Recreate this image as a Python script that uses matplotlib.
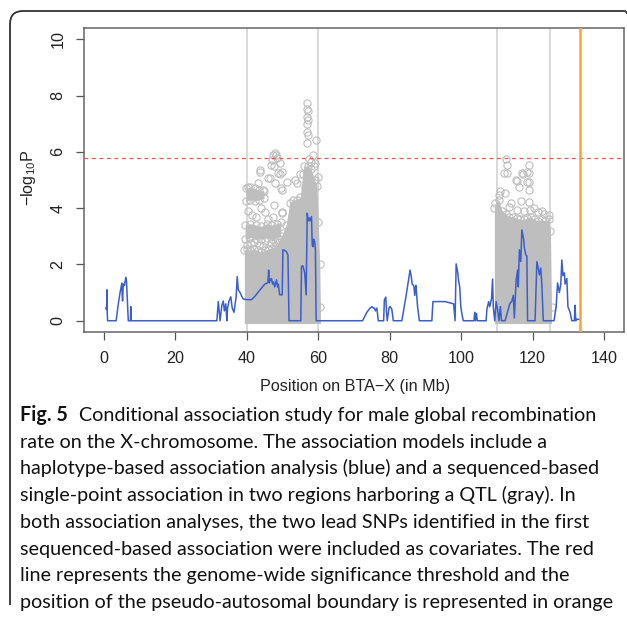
import numpy as np
import matplotlib.pyplot as plt
from matplotlib.path import Path
from matplotlib.patches import PathPatch

plt.rcParams['font.family'] = ['Liberation Sans', 'DejaVu Sans']

# haplotype-based association along BTA-X (blue line)
hap_pos = [0.5, 0.75, 0.85, 0.9, 1.0, 3.4, 4.0, 4.5, 5.0, 5.1, 5.2, 5.4, 5.7, 6.1, 6.3, 6.8, 7.4, 7.5, 7.6,
           31.6, 32.0, 32.5, 33.0, 33.4, 33.7, 34.1, 34.4, 34.6, 35.0, 35.5, 35.9, 36.4, 37.0, 37.3, 37.6,
           38.1, 38.6, 39.0, 40.0, 41.3, 42.2, 43.7, 45.0, 45.9, 46.1, 46.3, 46.6, 46.9, 47.2, 47.5, 47.8,
           48.1, 48.3, 48.6, 48.8, 49.2, 49.9, 50.1, 50.6, 51.1, 51.5, 51.8, 55.1, 55.3, 55.7, 56.2, 56.6,
           56.9, 57.2, 57.5, 57.7, 58.1, 58.3, 58.5, 58.7, 59.0, 59.2, 59.4, 72.4, 73.6, 74.5, 75.0, 75.4,
           75.7, 76.0, 76.4, 76.8, 78.3, 78.5, 78.9, 79.1, 79.3, 79.8, 80.1, 80.6, 81.0, 83.4, 84.6, 85.7,
           86.0, 86.3, 86.6, 86.8, 87.0, 87.3, 87.5, 87.8, 88.3, 91.8, 92.1, 95.5, 97.9, 98.3, 98.6, 99.0,
           99.3, 99.6, 99.9, 100.2, 100.6, 103.6, 103.8, 104.0, 104.3, 104.5, 107.0, 107.2, 107.7, 108.0,
           108.5, 108.8, 109.0, 109.4, 109.8, 110.2, 110.6, 111.0, 111.3, 112.3, 113.3, 113.6, 114.2, 114.6,
           114.9, 115.4, 115.8, 116.0, 116.3, 116.7, 117.0, 117.5, 117.7, 118.1, 118.4, 118.6, 120.7, 121.2,
           121.7, 121.9, 122.3, 122.6, 123.0, 126.0, 126.6, 127.0, 127.5, 127.9, 128.2, 128.5, 128.9, 129.1,
           129.6, 129.9, 130.5, 131.0, 131.7, 131.9, 132.1, 132.3, 133.2]
hap_logp = [0.45, 0.4, 1.1, 0.3, 0.0, 0.0, 0.6, 1.0, 1.34, 0.9, 0.7, 1.3, 1.25, 1.54, 1.4, 0.0, 0.0, 0.5, 0.0,
            0.0, 0.68, 0.0, 0.55, 0.7, 0.35, 0.6, 0.0, 0.45, 0.7, 0.85, 0.45, 0.3, 0.85, 1.57, 1.1,
            1.0, 0.86, 0.77, 0.75, 0.75, 0.86, 1.1, 1.3, 1.35, 1.8, 1.35, 1.45, 1.5, 1.3, 1.38, 1.2,
            1.35, 1.45, 1.2, 1.3, 0.92, 0.92, 2.52, 2.5, 2.45, 2.34, 0.0, 0.0, 1.93, 1.95, 1.7, 0.92,
            3.82, 3.55, 3.65, 3.55, 3.7, 2.7, 2.63, 2.9, 2.8, 2.5, 0.0, 0.0, 0.3, 0.45, 0.5, 0.45,
            0.45, 0.35, 0.45, 0.0, 0.0, 0.74, 0.84, 0.3, 0.0, 0.45, 0.51, 0.4, 0.0, 0.0, 0.9, 1.8,
            1.6, 1.3, 1.26, 1.2, 0.9, 1.26, 1.0, 0.5, 0.0, 0.0, 0.68, 0.68, 0.6, 0.0, 2.02, 1.75,
            1.4, 1.2, 0.5, 0.25, 0.0, 0.0, 0.3, 0.0, 0.25, 0.0, 0.0, 0.4, 0.68, 0.5,
            0.78, 1.48, 0.5, 0.0, 0.68, 0.4, 0.0, 0.5, 0.0, 0.0, 0.45, 0.6, 0.7, 0.9,
            0.1, 1.45, 1.8, 1.2, 2.52, 2.1, 3.23, 2.9, 2.6, 2.34, 2.3, 0.0, 0.0, 2.1,
            1.8, 1.63, 1.87, 1.28, 0.0, 0.0, 0.5, 1.34, 1.0, 1.3, 2.16, 1.6, 1.7, 1.3,
            1.5, 0.5, 0.3, 0.0, 0.0, 0.55, 0.0, 0.05, 0.05]

# sequence-based single-point association: saturated SNP cloud, upper edge
core1_pos = [39.3, 40.0, 41.0, 42.0, 43.0, 44.0, 45.0, 46.0, 47.0, 48.0, 49.0, 50.0, 51.0, 52.0,
             53.0, 54.0, 55.0, 55.6, 56.0, 57.0, 58.0, 59.0, 59.6, 60.0, 60.4, 60.6]
core1_top = [2.5, 2.55, 2.5, 2.55, 2.5, 2.45, 2.5, 2.55, 2.6, 2.65, 2.8, 3.1, 3.4, 4.2,
             4.3, 4.3, 4.4, 5.2, 5.5, 5.5, 5.4, 5.0, 4.8, 3.5, 2.0, 0.5]
core2_pos = [109.3, 109.6, 110.5, 111.5, 112.5, 113.5, 114.5, 115.5, 116.5, 117.5, 118.5, 119.5,
             120.5, 121.5, 122.5, 123.5, 124.5, 125.0, 125.3]
core2_top = [4.0, 4.2, 4.3, 3.9, 3.8, 3.7, 3.7, 3.65, 3.6, 3.6, 3.65, 3.7, 3.6, 3.55, 3.6, 3.55,
             3.6, 3.2, 0.5]

# denser horizontal bands of SNPs in the first region
band_pos = [[39.5, 41.0, 42.5, 44.0, 45.5, 47.0, 48.5, 49.5],
            [39.7, 41.0, 42.2, 43.5, 44.8]]
band_lo = [[2.9, 2.95, 2.9, 2.9, 2.95, 2.9, 2.95, 3.0],
           [4.25, 4.3, 4.25, 4.3, 4.35]]
band_hi = [[3.4, 3.45, 3.4, 3.35, 3.45, 3.4, 3.45, 3.5],
           [4.7, 4.75, 4.7, 4.65, 4.6]]

# isolated SNPs above the cloud
snp_pos = [56.9, 56.9, 57.0, 56.8, 57.0, 56.9, 56.9, 57.1, 56.9, 59.4,
           47.3, 47.8, 48.2, 48.5, 47.0, 46.7, 47.5, 49.2, 49.7, 48.7, 49.2, 43.6, 45.9, 47.8,
           51.1, 49.5, 53.9, 56.2, 40.3, 43.1, 44.5, 41.3, 45.0, 49.7, 49.7, 53.4, 43.7, 46.5,
           49.8, 47.4, 55.0, 58.4, 59.0, 59.8, 57.4, 58.0, 58.8,
           40.0, 41.2, 42.0, 43.5, 44.4, 45.2, 46.8, 48.0, 40.2, 42.5, 44.0, 46.0, 47.5,
           112.6, 112.8, 112.8, 112.0, 112.3, 115.4, 115.6, 116.1, 117.0, 117.3, 118.4, 119.1,
           118.9, 119.1, 118.4, 118.9, 116.7, 119.1, 120.3, 113.5, 115.6, 117.5, 119.3, 123.1,
           124.5, 110.5, 111.0, 114.0, 121.5, 122.5]
snp_logp = [7.72, 7.52, 7.45, 7.25, 7.12, 7.0, 6.72, 6.6, 6.32, 6.42,
            5.89, 5.95, 5.9, 5.77, 5.72, 5.53, 5.5, 5.59, 5.3, 5.24, 5.2, 5.3, 5.06, 4.88,
            4.94, 4.7, 4.88, 4.76, 4.76, 4.88, 4.65, 3.76, 3.88, 3.88, 4.65, 5.0, 5.35, 5.06,
            3.82, 3.7, 5.2, 5.9, 5.6, 5.1, 5.75, 5.65, 5.5,
            2.7, 2.75, 2.8, 2.7, 2.65, 2.85, 2.75, 2.8, 3.9, 3.7, 4.0, 3.6, 4.1,
            5.73, 5.53, 5.24, 5.24, 4.55, 5.0, 4.95, 4.76, 5.24, 5.2, 5.3, 5.53,
            5.24, 4.94, 4.94, 4.65, 4.26, 4.23, 4.0, 4.05, 3.95, 3.9, 3.95, 3.8,
            3.75, 4.45, 4.6, 4.2, 3.85, 3.9]

threshold = 5.78
par_boundary = 133.3
qtl_edges = [40, 60, 110, 125]

caption = [
    "rate on the X-chromosome. The association models include a",
    "haplotype-based association analysis (blue) and a sequenced-based",
    "single-point association in two regions harboring a QTL (gray). In",
    "both association analyses, the two lead SNPs identified in the first",
    "sequenced-based association were included as covariates. The red",
    "line represents the genome-wide significance threshold and the",
    "position of the pseudo-autosomal boundary is represented in orange",
]
caption_first = "Conditional association study for male global recombination"

W, H = 627, 617
fig = plt.figure(figsize=(W / 100, H / 100), dpi=100)
ax = fig.add_axes([84 / W, 1 - 332 / H, 540 / W, 304 / H])

grey = '#bebebe'
circ = dict(ls='none', marker='o', ms=5.2, mfc='none', mec=grey, mew=0.8)

for x in qtl_edges:
    ax.axvline(x, color='#d0d0d0', lw=1.1, zorder=1)

for pos, top in [(core1_pos, core1_top), (core2_pos, core2_top)]:
    ax.fill_between(pos, -0.1, top, color=grey, lw=0, zorder=2)
    ax.plot(pos, top, **circ, zorder=2)
for pos, lo, hi in zip(band_pos, band_lo, band_hi):
    ax.fill_between(pos, lo, hi, color=grey, lw=0, zorder=2)
    ax.plot(pos, hi, **circ, zorder=2)
    ax.plot(pos, lo, **circ, zorder=2)
ax.plot(snp_pos, snp_logp, **circ, zorder=2)

ax.plot(hap_pos, hap_logp, color='#3a5fcd', lw=1.1, zorder=3)
ax.axhline(threshold, color='#ff4d4d', lw=0.9, ls=(0, (3, 3)), zorder=4)
ax.axvline(par_boundary, color='#f7a433', lw=1.8, zorder=4)

ax.set_xlim(-5.6, 145.6)
ax.set_ylim(-0.4, 10.4)
ax.set_xticks(range(0, 141, 20))
ax.set_yticks(range(0, 11, 2))
ax.set_yticklabels([str(v) for v in range(0, 11, 2)], rotation=90, va='center')
ax.tick_params(length=5.5, width=0.9, color='#555555', pad=8, labelsize=11.6, labelcolor='#222222')
for s in ax.spines.values():
    s.set_color('#666666')
    s.set_linewidth(1.1)

fig.text(355 / W, 1 - 386 / H, 'Position on BTA\u2212X (in Mb)', ha='center', va='center',
         fontsize=11.6, color='#222222')
fig.text(28 / W, 1 - 178 / H, r'$\mathregular{-log_{10}P}$', rotation=90, ha='center',
         va='center', fontsize=11.6, color='#222222')

# panel frame with rounded top-left corner
pts = [(10, 605), (10, 24), (10, 11), (23, 11), (624, 11), (627, 11), (627, 14)]
codes = [Path.MOVETO, Path.LINETO, Path.CURVE3, Path.CURVE3, Path.LINETO, Path.CURVE3, Path.CURVE3]
frame = Path([(x / W, 1 - y / H) for x, y in pts], codes)
fig.patches.append(PathPatch(frame, transform=fig.transFigure, fill=False, ec='#333333', lw=1.3))

# caption, sized so the first line spans the text block
cap_font = 'Lato'
renderer = fig.canvas.get_renderer()


def width(s, **kw):
    t = fig.text(0, 0, s, family=cap_font, **kw)
    w = t.get_window_extent(renderer).width
    t.remove()
    return w


fs = 14
w_bold = width('Fig. 5', fontsize=fs, weight='bold')
gap = 0.55 * fs * 100 / 72
w_line = w_bold + gap + width(caption_first, fontsize=fs)
fs = fs * 580 / w_line
w_bold *= fs / 14
gap *= fs / 14

left = 20
base = 421
step = 26.7
fig.text(left / W, 1 - base / H, 'Fig. 5', family=cap_font, weight='bold', fontsize=fs,
         va='baseline', color='#111111')
fig.text((left + w_bold + gap) / W, 1 - base / H, caption_first, family=cap_font, fontsize=fs,
         va='baseline', color='#111111')
for i, line in enumerate(caption, start=1):
    fig.text(left / W, 1 - (base + i * step) / H, line, family=cap_font, fontsize=fs,
             va='baseline', color='#111111')

fig.savefig('out.png', dpi=100)
